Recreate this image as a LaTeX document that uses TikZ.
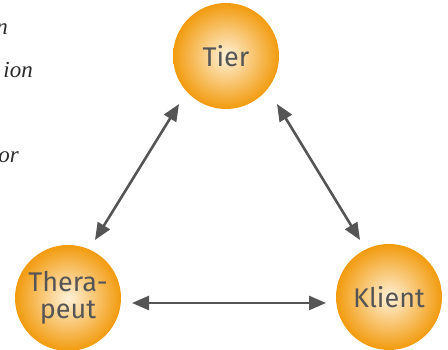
\documentclass[tikz,border=0pt]{standalone}
\usepackage{fontspec}
\setmainfont{Liberation Serif}
\newfontfamily\labelfont{Fira Sans}
\usetikzlibrary{arrows.meta,calc}
\definecolor{ballout}{HTML}{F29B0E}
\definecolor{ballin}{HTML}{FFF1D8}
\definecolor{inkgray}{HTML}{555555}
\definecolor{notegray}{HTML}{2B2B2B}
\tikzset{
  ball/.style={circle, minimum size=106pt, inner sep=0pt,
    inner color=ballin, outer color=ballout,
    font=\labelfont\fontsize{27}{29}\selectfont, text=inkgray, align=center},
  link/.style={draw=inkgray, line width=2.6pt,
    {Triangle[length=17pt,width=14pt]}-{Triangle[length=17pt,width=14pt]}},
  note/.style={anchor=base east, inner sep=0pt, text=notegray,
    font=\itshape\fontsize{23}{25}\selectfont}
}
\begin{document}
\begin{tikzpicture}[x=1pt,y=-1pt]
  \useasboundingbox (0,0) rectangle (448,350);
  \begin{scope}
    \clip (0,0) rectangle (448,350);
    % side notes, running off the left edge
    \node[note] (n1) at (8,35) {n};
    \node[note] (n2) at (33,78) {ion};
    \node[note] (n3) at (19,163) {or};
    % the three parties
    \node[ball] (tier) at (226,56) {Tier};
    \node[ball] (ther) at (68,298) {Thera-\\[-2pt]peut};
    \node[ball] (kli) at (389,297) {Klient};
  \end{scope}
  % arrow ends, set off from the balls
  \coordinate (tl) at ($(tier)+(-47,48)$);
  \coordinate (tr) at ($(tier)+(51,48)$);
  \coordinate (hl) at ($(ther)+(27,-58)$);
  \coordinate (hr) at ($(ther)+(64,5)$);
  \coordinate (kl) at ($(kli)+(-63,6)$);
  \coordinate (kt) at ($(kli)+(-29,-57)$);
  % relations
  \draw[link] (tl) -- (hl);
  \draw[link] (tr) -- (kt);
  \draw[link] (hr) -- (kl);
\end{tikzpicture}
\end{document}
